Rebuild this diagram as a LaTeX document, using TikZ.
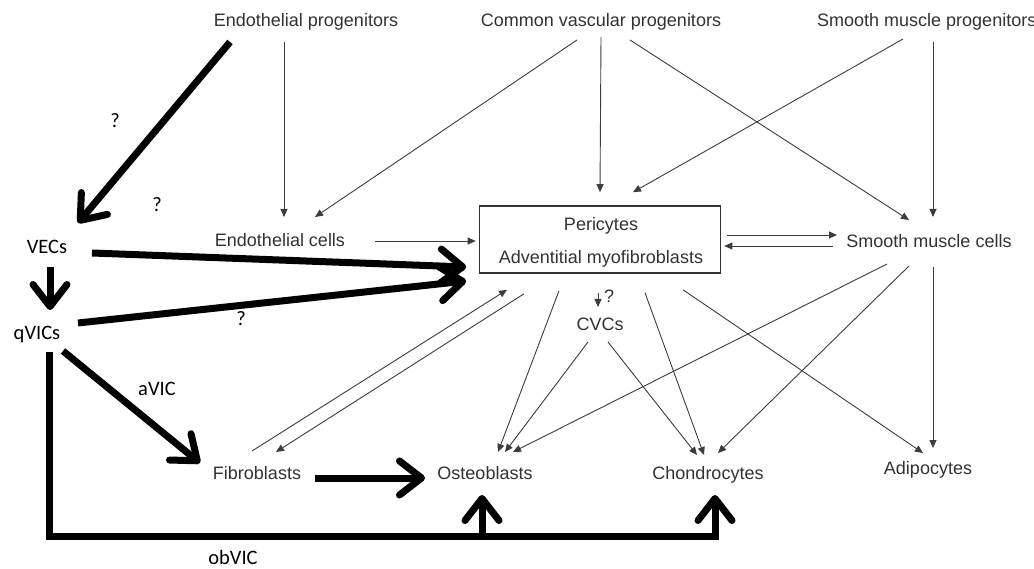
\documentclass[tikz,border=0pt]{standalone}
\usepackage{fontspec}
\setmainfont{Liberation Sans}
\newfontfamily\calib{Carlito}
\usetikzlibrary{arrows.meta}
\definecolor{txtgray}{RGB}{50,50,50}
\definecolor{lngray}{RGB}{60,60,60}
\begin{document}
\begin{tikzpicture}[x=1pt,y=-1pt,
  lbl/.style={font=\fontsize{18}{20}\selectfont, text=txtgray, inner sep=0pt, text height=13pt, text depth=0pt},
  blk/.style={font=\calib\fontsize{20.5}{22}\selectfont, text=black, inner sep=0pt, text height=13.2pt, text depth=0pt},
  thinarr/.style={draw=lngray, line width=0.9pt, -{Triangle[length=8pt,width=7pt]}},
  thickarr/.style={draw=black, line width=7pt, line join=miter, -{Straight Barb[length=22pt,width=34pt,round]}}]
\useasboundingbox (0,0) rectangle (1034,569);
\clip (0,0) rectangle (1034,569);

% gray nodes
\node[lbl] (ep) at (306,20) {Endothelial progenitors};
\node[lbl] (cvp) at (601,20) {Common vascular progenitors};
\node[lbl, anchor=west] (smp) at (817,20) {Smooth muscle progenitors};
\node[lbl] (ec) at (280,240) {Endothelial cells};
\node[draw=txtgray, line width=1.6pt, minimum width=241pt, minimum height=67pt, inner sep=0pt] (box) at (600,239.5) {};
\node[lbl] (peri) at (601,224) {Pericytes};
\node[lbl] (adv) at (601,257) {Adventitial myofibroblasts};
\node[lbl] (smc) at (929,241) {Smooth muscle cells};
\node[lbl] (cvc) at (600,324) {CVCs};
\node[lbl] (fib) at (257,473) {Fibroblasts};
\node[lbl] (ost) at (485,473) {Osteoblasts};
\node[lbl] (cho) at (708,473) {Chondrocytes};
\node[lbl] (adi) at (928,468) {Adipocytes};
\node[lbl] (qc) at (609,296) {?};

% black nodes
\node[blk] (vec) at (47,247) {VECs};
\node[blk] (qvic) at (37,333) {qVICs};
\node[blk] (avic) at (157,389) {aVIC};
\node[blk] (obvic) at (233,558) {obVIC};
\node[blk] (q1) at (115,121) {?};
\node[blk] (q2) at (157,205) {?};
\node[blk] (q3) at (241,319) {?};

% thin arrows
\draw[thinarr] ([shift={(-22,22)}]ep.center) -- ([shift={(4,-23)}]ec.center);
\draw[thinarr] ([shift={(-24,20)}]cvp.center) -- ([shift={(35,-23)}]ec.center);
\draw[thinarr] ([shift={(0,17)}]cvp.center) -- ([shift={(0,-13)}]box.north);
\draw[thinarr] ([shift={(29,20)}]cvp.center) -- ([shift={(-20,-21)}]smc.center);
\draw[thinarr] ([shift={(86,19)}]smp.west) -- ([shift={(33,-13)}]box.north);
\draw[thinarr] ([shift={(116,22)}]smp.west) -- ([shift={(4,-24)}]smc.center);
\draw[thinarr] ([shift={(95,1)}]ec.center) -- ([shift={(-3,1.5)}]box.west);
\draw[thinarr] ([shift={(6,-4.5)}]box.east) -- ([shift={(-92,-6)}]smc.center);
\draw[thinarr] ([shift={(-96,5)}]smc.center) -- ([shift={(3,6.5)}]box.east);
\draw[thinarr] ([shift={(-5,-22)}]fib.center) -- ([shift={(-93,16)}]box.south);
\draw[thinarr] ([shift={(-76,20)}]box.south) -- ([shift={(19,-21)}]fib.center);
\draw[thinarr] ([shift={(-41,17)}]box.south) -- ([shift={(13,-21)}]ost.center);
\draw[thinarr] ([shift={(-12,18)}]cvc.center) -- ([shift={(20,-21)}]ost.center);
\draw[thinarr] ([shift={(-42,23)}]smc.center) -- ([shift={(28,-21)}]ost.center);
\draw[thinarr] ([shift={(45,19)}]box.south) -- ([shift={(-4,-18)}]cho.center);
\draw[thinarr] ([shift={(8,18)}]cvc.center) -- ([shift={(-11,-18)}]cho.center);
\draw[thinarr] ([shift={(-20,25)}]smc.center) -- ([shift={(10,-20)}]cho.center);
\draw[thinarr] ([shift={(83,16)}]box.south) -- ([shift={(-5,-15)}]adi.center);
\draw[thinarr] ([shift={(4,26)}]smc.center) -- ([shift={(5,-20)}]adi.center);
\draw[thinarr] ([shift={(-2,19)}]box.south) -- ([shift={(-2,-17)}]cvc.center);

% thick arrows
\draw[thickarr] ([shift={(-76,22)}]ep.center) -- ([shift={(31,-24)}]vec.center);
\draw[thickarr] ([shift={(45,6)}]vec.center) -- ([shift={(-12.5,27.5)}]box.west);
\draw[thickarr] ([shift={(41,-10)}]qvic.center) -- ([shift={(-12.5,41.5)}]box.west);
\draw[thickarr] ([shift={(3,20)}]vec.center) -- ([shift={(13,-23)}]qvic.center);
\draw[thickarr] ([shift={(26,18)}]qvic.center) -- ([shift={(-57,-10)}]fib.center);
\draw[thickarr] ([shift={(58,5)}]fib.center) -- ([shift={(-60,5)}]ost.center);
\draw[thickarr] ([shift={(12,19)}]qvic.center) |- ([shift={(7,63)}]cho.center) -- ([shift={(7,22)}]cho.center);
\draw[thickarr] ([shift={(-3,66)}]ost.center) -- ([shift={(-3,22)}]ost.center);
\end{tikzpicture}
\end{document}
